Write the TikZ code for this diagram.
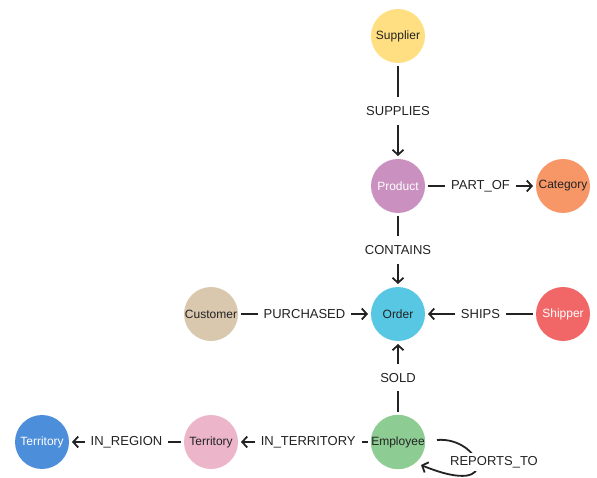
\documentclass[tikz,border=0pt]{standalone}
\usepackage{fontspec}
\setmainfont{Liberation Sans}
\usetikzlibrary{arrows.meta}
\definecolor{cSupplier}{HTML}{FFDF81}
\definecolor{cProduct}{HTML}{C990C0}
\definecolor{cCategory}{HTML}{F79767}
\definecolor{cOrder}{HTML}{57C7E3}
\definecolor{cCustomer}{HTML}{D9C8AE}
\definecolor{cShipper}{HTML}{F16667}
\definecolor{cEmployee}{HTML}{8DCC93}
\definecolor{cTerrA}{HTML}{ECB5C9}
\definecolor{cTerrB}{HTML}{4C8EDA}
\definecolor{ink}{HTML}{222222}
\tikzset{
  entity/.style={circle, minimum size=54pt, inner sep=0pt, outer sep=3pt,
    font=\fontsize{12}{14}\selectfont, text=ink},
  lighttext/.style={text=white},
  rel/.style={draw=ink, line width=1.8pt, -{Straight Barb[length=5pt,width=11pt,line width=1.8pt]}},
  lbl/.style={fill=white, text=ink, inner xsep=6pt, inner ysep=9pt,
    font=\fontsize{13}{15}\selectfont},
}
\begin{document}
\begin{tikzpicture}[x=1pt,y=-1pt]
  \useasboundingbox (0,0) rectangle (597,478);

  % entities
  \node[entity, fill=cSupplier]            (supplier) at (398,36)  {Supplier};
  \node[entity, fill=cProduct, lighttext]  (product)  at (398,186) {Product};
  \node[entity, fill=cCategory]            (category) at (563,186) {Category};
  \node[entity, fill=cOrder]               (order)    at (398,314) {Order};
  \node[entity, fill=cCustomer]            (customer) at (211,314) {Customer};
  \node[entity, fill=cShipper, lighttext]  (shipper)  at (563,314) {Shipper};
  \node[entity, fill=cEmployee]            (employee) at (398,442) {Employee};
  \node[entity, fill=cTerrA]               (terrA)    at (211,442) {Territory};
  \node[entity, fill=cTerrB, lighttext]    (terrB)    at (42,442)  {Territory};

  % relationships
  \draw[rel] (supplier) -- node[lbl] {SUPPLIES} (product);
  \draw[rel] (product) -- node[lbl] {PART\_OF} (category);
  \draw[rel] (product) -- node[lbl] {CONTAINS} (order);
  \draw[rel] (customer) -- node[lbl] {PURCHASED} (order);
  \draw[rel] (shipper) -- node[lbl] {SHIPS} (order);
  \draw[rel] (employee) -- node[lbl] {SOLD} (order);
  \draw[rel] (employee) -- node[lbl, pos=0.47] {IN\_TERRITORY} (terrA);
  \draw[rel] (terrA) -- node[lbl] {IN\_REGION} (terrB);

  % self loop on Employee
  \coordinate (loopStart) at (437,440);
  \coordinate (loopEnd) at (421,465);
  \draw[rel] (loopStart) .. controls (480,436) and (506,500) .. (loopEnd);
  \node[lbl, inner ysep=3pt, inner xsep=2pt] (reports) at (494,462) {REPORTS\_TO};
\end{tikzpicture}
\end{document}
